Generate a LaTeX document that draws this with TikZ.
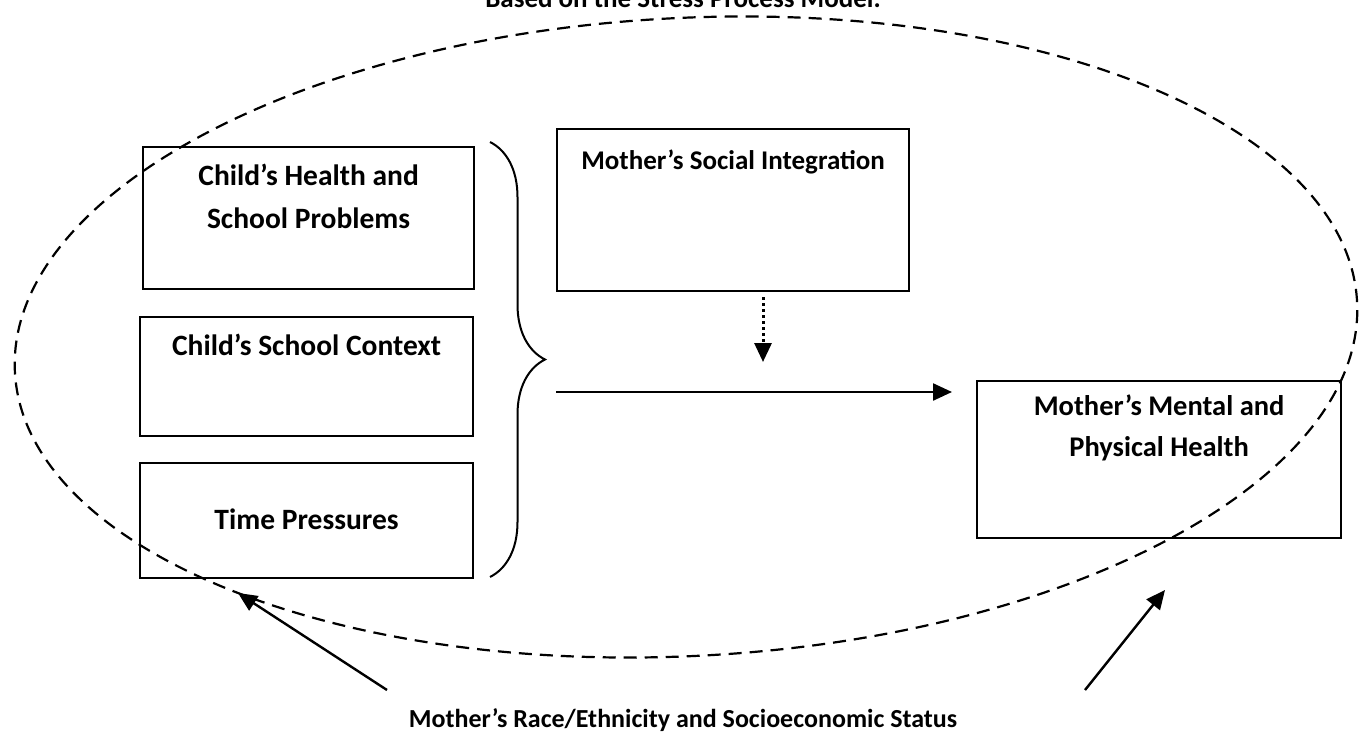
\documentclass[tikz,border=0pt]{standalone}
\usepackage{fontspec}
\setmainfont{Carlito}
\usetikzlibrary{positioning, arrows.meta, shapes.geometric, decorations.pathreplacing, calc}
\tikzset{
  box/.style={draw, line width=2.2pt, inner sep=0pt, anchor=north west},
  txt/.style={align=center, inner sep=0pt, font=\fontsize{27}{43}\selectfont\bfseries},
  bigtxt/.style={txt, font=\fontsize{29.5}{43}\selectfont\bfseries},
  model/.style={draw, ellipse, dash pattern=on 13pt off 8pt, line width=2.2pt, inner sep=0pt, minimum width=1344pt, minimum height=638pt},
  bracket/.style={decorate, decoration={brace, amplitude=55pt}, line width=2pt},
  arr/.style={-{Triangle[length=19pt, width=17pt]}, line width=2.4pt},
  darr/.style={arr, dash pattern=on 3pt off 3pt, line width=3pt}
}
\begin{document}
\begin{tikzpicture}[x=1pt, y=-1pt, node distance=18pt]
\useasboundingbox (0,0) rectangle (1363,744);
\node[model, rotate=3] (stress) at (686,337) {};
\node[txt, anchor=base] (title) at (683,7) {Based on the Stress Process Model.};

% stressors
\node[box, minimum width=331pt, minimum height=142pt] (health) at (142,146) {};
\node[bigtxt, below=of health.north] (healthtxt) {Child’s Health and\\School Problems};
\node[box, minimum width=333pt, minimum height=119pt] (context) at (139,316) {};
\node[bigtxt, below=of context.north] (contexttxt) {Child’s School Context};
\node[box, minimum width=333pt, minimum height=115pt] (time) at (139,462) {};
\node[bigtxt, below=47pt of time.north] (timetxt) {Time Pressures};
\draw[bracket] (490,142) -- (490,577);

% moderator and outcome
\node[box, minimum width=352pt, minimum height=162pt] (social) at (556,128) {};
\node[txt, below=22pt of social.north] (socialtxt) {Mother’s Social Integration};
\node[box, minimum width=364pt, minimum height=157pt] (mental) at (976,380) {};
\node[txt, font=\fontsize{28.5}{41}\selectfont\bfseries, below=15pt of mental.north] (mentaltxt) {Mother’s Mental and\\Physical Health};

\coordinate (flowstart) at (556,392);
\draw[arr, shorten >=24pt] (flowstart) -- (mental.west |- flowstart);
\coordinate (modend) at (763,362);
\draw[darr, shorten <=5pt] (social.south -| modend) -- (modend);

% context variables
\node[txt, font=\fontsize{26}{40}\selectfont\bfseries, anchor=base] (status) at (683,727) {Mother’s Race/Ethnicity and Socioeconomic Status};
\coordinate (racetail) at (387,690);
\coordinate (racehead) at (238,593);
\coordinate (sestail) at (1085,690);
\coordinate (seshead) at (1165,590);
\draw[arr] (racetail) -- (racehead);
\draw[arr] (sestail) -- (seshead);
\end{tikzpicture}
\end{document}
